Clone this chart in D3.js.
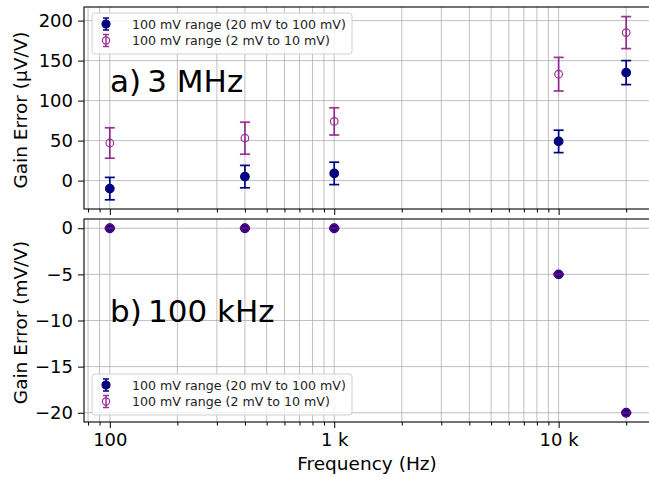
<!DOCTYPE html>
<html><head><meta charset="utf-8">
<script src="https://cdn.jsdelivr.net/npm/d3@7"></script>
<style>
html,body{margin:0;padding:0;background:#fff;}
svg{display:block;font-family:"DejaVu Sans",sans-serif;}
</style></head>
<body><svg id="c" width="649" height="477"></svg>
<script>
// ---- data ----
const freqs = [100, 400, 1000, 10000, 20000];
const seriesNames = ["100 mV range (20 mV to 100 mV)", "100 mV range (2 mV to 10 mV)"];
// panel a) 3 MHz, µV/V
const aHigh = [-10, 5, 9, 49, 135];
const aHighErr = [14, 14, 14, 14, 15];
const aLow = [47, 53, 74, 133, 185];
const aLowErr = [19, 20, 17, 21, 20];
// panel b) 100 kHz, mV/V
const bHigh = [0, 0, 0, -5, -20];
const bHighErr = [0.05, 0.05, 0.05, 0.05, 0.05];
const bLow = [0, 0, 0, -5, -20];
const bLowErr = [0.05, 0.05, 0.05, 0.05, 0.05];
const aTicks = [0, 50, 100, 150, 200];
const bTicks = [0, -5, -10, -15, -20];
const xMajor = [100, 1000, 10000];
const xMajorLabels = ["100", "1 k", "10 k"];
const xMinor = [80, 90, 200, 300, 400, 500, 600, 700, 800, 900, 2000, 3000, 4000, 5000, 6000, 7000, 8000, 9000, 20000];

const NAVY = "#000080", PURPLE = "#800080";
const svg = d3.select("#c");
const L = 84, R = 652;
const x = d3.scaleLog().domain([Math.pow(10, 1.88495), Math.pow(10, 4.41608)]).range([L, R]);

function panel(top, bottom, ydom, ticks, hi, hiErr, lo, loErr, label, title, legendTop) {
  const y = d3.scaleLinear().domain(ydom).range([bottom, top]);
  const g = svg.append("g");
  // grid
  g.selectAll(".vg").data(xMajor.concat(xMinor)).join("line")
    .attr("x1", d => x(d)).attr("x2", d => x(d)).attr("y1", top).attr("y2", bottom)
    .attr("stroke", "#b0b0b0").attr("stroke-width", 0.8);
  g.selectAll(".hg").data(ticks).join("line")
    .attr("x1", L).attr("x2", R).attr("y1", d => y(d)).attr("y2", d => y(d))
    .attr("stroke", "#b0b0b0").attr("stroke-width", 0.8);
  // axes
  const ya = g.append("g").attr("transform", `translate(${L},0)`)
    .call(d3.axisLeft(y).tickValues(ticks).tickSize(6).tickPadding(5).tickFormat(d => d < 0 ? "\u2212" + Math.abs(d) : d));
  ya.select(".domain").remove();
  ya.selectAll("text").attr("font-size", 18).attr("fill", "#000").attr("font-family", "DejaVu Sans");
  const xa = g.append("g").attr("transform", `translate(0,${bottom})`)
    .call(d3.axisBottom(x).tickValues(xMajor).tickSize(6).tickPadding(5).tickFormat((d, i) => xMajorLabels[i]));
  xa.select(".domain").remove();
  xa.selectAll("text").attr("font-size", 18).attr("fill", "#000").attr("font-family", "DejaVu Sans");
  if (!label.showX) xa.selectAll("text").remove();
  const xm = g.append("g").attr("transform", `translate(0,${bottom})`)
    .call(d3.axisBottom(x).tickValues(xMinor).tickSize(3.5).tickFormat(""));
  xm.select(".domain").remove();
  g.append("rect").attr("x", L).attr("y", top).attr("width", R - L).attr("height", bottom - top)
    .attr("fill", "none").attr("stroke", "#000").attr("stroke-width", 1.1);
  // y label
  g.append("text").attr("transform", `translate(27,${(top + bottom) / 2 + 2}) rotate(-90)`)
    .attr("text-anchor", "middle").attr("font-size", 18.5).text(label.y);
  // title
  g.append("text").attr("x", 110).attr("y", title.y).attr("font-size", 31).text(title.t);
  // error bars
  function series(vals, errs, color, filled, opacity) {
    const s = g.append("g").attr("opacity", opacity);
    freqs.forEach((f, i) => {
      const cx = x(f), y0 = y(vals[i] - errs[i]), y1 = y(vals[i] + errs[i]);
      s.append("line").attr("x1", cx).attr("x2", cx).attr("y1", y0).attr("y2", y1).attr("stroke", color).attr("stroke-width", 1.7);
      [y0, y1].forEach(yy => s.append("line").attr("x1", cx - 5).attr("x2", cx + 5).attr("y1", yy).attr("y2", yy).attr("stroke", color).attr("stroke-width", 1.7));
      s.append("circle").attr("cx", cx).attr("cy", y(vals[i])).attr("r", filled ? 4.3 : 3.8)
        .attr("fill", filled ? color : "none").attr("stroke", color).attr("stroke-width", 1.2);
    });
  }
  series(hi, hiErr, NAVY, true, 1);
  series(lo, loErr, PURPLE, false, 0.8);
  // legend
  const lg = g.append("g");
  lg.append("rect").attr("x", 92).attr("y", legendTop).attr("width", 260).attr("height", 41).attr("rx", 3)
    .attr("fill", "#fff").attr("fill-opacity", 0.8).attr("stroke", "#d0d0d0").attr("stroke-width", 1);
  [[NAVY, true, 1], [PURPLE, false, 0.8]].forEach((c, i) => {
    const cy = legendTop + 11 + i * 16.5;
    const it = lg.append("g").attr("opacity", c[2]);
    it.append("line").attr("x1", 106).attr("x2", 106).attr("y1", cy - 6).attr("y2", cy + 6).attr("stroke", c[0]).attr("stroke-width", 1.5);
    [cy - 6, cy + 6].forEach(yy => it.append("line").attr("x1", 103).attr("x2", 109).attr("y1", yy).attr("y2", yy).attr("stroke", c[0]).attr("stroke-width", 1.5));
    it.append("circle").attr("cx", 106).attr("cy", cy).attr("r", c[1] ? 4 : 3.6).attr("fill", c[1] ? c[0] : "none").attr("stroke", c[0]).attr("stroke-width", 1.2);
    lg.append("text").attr("x", 132).attr("y", cy + 4.5).attr("font-size", 12.6).attr("fill", "#222").text(seriesNames[i]);
  });
}

panel(7, 209, [-35.5, 217], aTicks, aHigh, aHighErr, aLow, aLowErr,
  {y: "Gain Error (\u03bcV/V)", showX: false}, {t: "a)\u20093 MHz", y: 92}, 13);
panel(219, 422, [-21, 1], bTicks, bHigh, bHighErr, bLow, bLowErr,
  {y: "Gain Error (mV/V)", showX: true}, {t: "b)\u2009100 kHz", y: 322}, 374);

svg.append("text").attr("x", 367).attr("y", 470).attr("text-anchor", "middle").attr("font-size", 18.5).text("Frequency (Hz)");
</script></body></html>
